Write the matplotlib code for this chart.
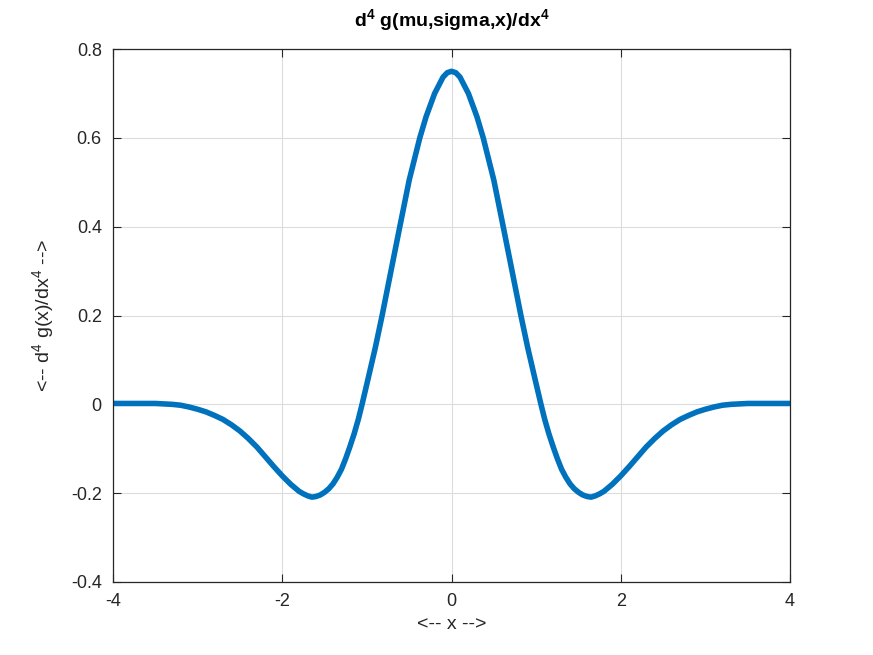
import matplotlib
matplotlib.use("Agg")
import matplotlib.pyplot as plt

plt.rcParams["font.family"] = ["Liberation Sans", "DejaVu Sans"]
plt.rcParams["mathtext.fontset"] = "custom"
plt.rcParams["mathtext.rm"] = "Liberation Sans"
plt.rcParams["mathtext.bf"] = "Liberation Sans:bold"

# values
x = [-4.0, -3.8, -3.5, -3.3, -3.2, -3.1, -3.0, -2.9, -2.8, -2.7, -2.6, -2.5,
     -2.4, -2.3, -2.2, -2.1, -2.0, -1.9, -1.8, -1.75, -1.7, -1.65, -1.6,
     -1.55, -1.5, -1.45, -1.4, -1.35, -1.3, -1.25, -1.2, -1.15, -1.1,
     -1.057, -1.0, -0.9, -0.82, -0.7, -0.611, -0.5, -0.375, -0.3, -0.2,
     -0.1, -0.05, 0.0,
     0.05, 0.1, 0.2, 0.3, 0.375, 0.5, 0.611, 0.7, 0.82, 0.9, 1.0, 1.057,
     1.1, 1.15, 1.2, 1.25, 1.3, 1.35, 1.4, 1.45, 1.5, 1.55, 1.6, 1.65, 1.7,
     1.75, 1.8, 1.9, 2.0, 2.1, 2.2, 2.3, 2.4, 2.5, 2.6, 2.7, 2.8, 2.9, 3.0,
     3.1, 3.2, 3.3, 3.5, 3.8, 4.0]
y = [0.002, 0.002, 0.002, 0.0, -0.002, -0.006, -0.011, -0.017, -0.025,
     -0.034, -0.046, -0.060, -0.077, -0.096, -0.118, -0.140, -0.161, -0.180,
     -0.196, -0.2015, -0.206, -0.209, -0.2075, -0.204, -0.198, -0.190,
     -0.179, -0.164, -0.146, -0.122, -0.095, -0.066, -0.033,
     0.0, 0.046, 0.128, 0.200, 0.315, 0.400, 0.505, 0.600, 0.648, 0.700,
     0.737, 0.747, 0.750,
     0.747, 0.737, 0.700, 0.648, 0.600, 0.505, 0.400, 0.315, 0.200, 0.128,
     0.046, 0.0, -0.033, -0.066, -0.095, -0.122, -0.146, -0.164, -0.179,
     -0.190, -0.198, -0.204, -0.2075, -0.209, -0.206, -0.2015, -0.196,
     -0.180, -0.161, -0.140, -0.118, -0.096, -0.077, -0.060, -0.046, -0.034,
     -0.025, -0.017, -0.011, -0.006, -0.002, 0.0, 0.002, 0.002, 0.002]

xticks = [-4, -2, 0, 2, 4]
yticks = [-0.4, -0.2, 0, 0.2, 0.4, 0.6, 0.8]
ytick_labels = ["-0.4", "-0.2", "0", "0.2", "0.4", "0.6", "0.8"]

fig = plt.figure(figsize=(8.73, 6.55), dpi=100)
ax = fig.add_axes([0.1294, 0.1115, 0.7756, 0.8135])
ax.plot(x, y, color="#0072BD", linewidth=4, solid_joinstyle="round")

ax.set_xlim(-4, 4)
ax.set_ylim(-0.4, 0.8)
ax.set_xticks(xticks)
ax.set_xticklabels([str(t) for t in xticks])
ax.set_yticks(yticks)
ax.set_yticklabels(ytick_labels)
ax.tick_params(direction="in", top=True, right=True, labelsize=13, length=6,
               width=0.8, colors="#262626", pad=8)
ax.grid(True, color="#dcdcdc", linewidth=0.8)
for s in ax.spines.values():
    s.set_color("#262626")
    s.set_linewidth(0.9)

ax.set_title(r"d$^\mathbf{4}$ g(mu,sigma,x)/dx$^\mathbf{4}$", fontsize=14,
             fontweight="bold", pad=16)
ax.set_xlabel("<-- x -->", fontsize=14, color="#262626", labelpad=4)
ax.set_ylabel(r"<-- d$^\mathrm{4}$ g(x)/dx$^\mathrm{4}$ -->", fontsize=14,
              color="#262626", labelpad=10)

fig.savefig("out.png", dpi=100)
